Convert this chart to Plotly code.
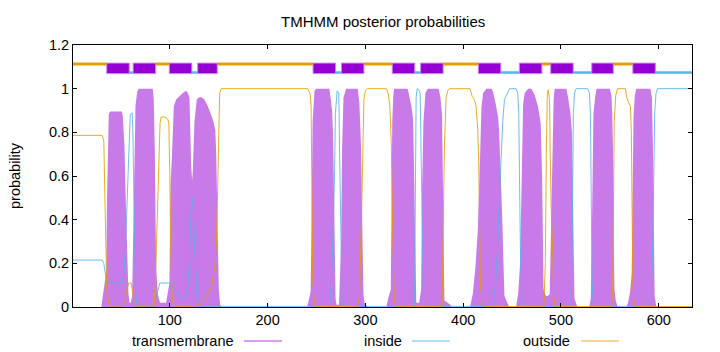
import plotly.graph_objects as go

# ---------------- data ----------------
tm_x = [1, 30, 31.5, 33.5, 35, 35.8, 36.5, 37.6, 39, 51, 52, 53.6, 55.3, 56.4, 57.7, 58.7, 60,
        61.5, 62.8, 64.9, 66.6, 68.3, 82.6, 83.6, 84.6, 85.3, 86, 87.7, 90, 94, 96.2,
        99.6, 100.7, 102.4, 104.1, 106.5, 109.9, 113.3, 116.7, 118.4, 120.1, 120.8, 121.8, 122.8,
        123.5, 125.2, 127.6, 129.6, 132, 135.4, 138.8, 142.2, 144.6, 146.5, 147.5, 148.3, 149,
        150.1, 151.4, 153,
        240.5, 242, 244, 245, 246, 248, 249.6, 263.2, 264.5, 266, 267, 267.8, 268.5, 269.5, 270.5,
        273, 274.1, 275.2, 276.2, 277.6, 280.3, 292.2, 293.9, 295.6, 296.6, 298, 299, 301, 302,
        321.5, 323.3, 326, 326.8, 327.5, 328.5, 329.5, 343, 344, 347, 348.8, 349.5, 350.3, 351,
        352, 355,
        357, 358, 359.4, 361.4, 363.8, 375, 376.7, 378.4, 379.1, 379.8, 380.8, 387, 388,
        407, 408.1, 409.8, 412.5, 414.9, 416.6, 417.6, 418.7, 420.4, 423.8, 428.9, 430.6, 433.3,
        435.7, 436.7, 438.1, 439.8, 441.2, 442.2, 446, 447,
        454.1, 456.2, 458.2, 459.2, 460.2, 461.3, 463, 466.4, 469.8, 473.2, 476.6, 479.3, 480.7,
        481.4, 482.2, 484.7, 486.5,
        488.5, 489.5, 490.5, 491.6, 492.5, 493.5, 505.5, 507.3, 509.7, 511.2, 512.2, 512.9, 513.8,
        515.9, 517,
        529, 530.5, 531.5, 532.2, 533.2, 535.2, 536.5, 549.9, 551.6, 552.5, 553.3, 554, 554.7,
        556, 558,
        567, 568.6, 570.7, 572.3, 573.2, 574.2, 575.5, 577.1, 591.5, 593, 594, 594.8, 595.8,
        597.6, 634]
tm_y = [0, 0, 0.05, 0.11, 0.16, 0.5, 0.75, 0.88, 0.895, 0.895, 0.87, 0.74, 0.43, 0.21, 0.06, 0.02, 0.02,
        0.05, 0.38, 0.92, 0.985, 1.0, 1.0, 0.95, 0.73, 0.43, 0.18, 0.06, 0.02, 0.02, 0.02,
        0.11, 0.55, 0.72, 0.92, 0.95, 0.965, 0.98, 0.99, 0.98, 0.96, 0.8, 0.65, 0.58,
        0.62, 0.85, 0.95, 0.96, 0.962, 0.95, 0.92, 0.88, 0.85, 0.81, 0.7, 0.5, 0.3,
        0.08, 0.01, 0,
        0, 0.03, 0.07, 0.4, 0.85, 0.99, 1.0, 1.0, 0.96, 0.9, 0.78, 0.5, 0.2, 0.04, 0.01,
        0.01, 0.15, 0.3, 0.73, 0.96, 1.0, 1.0, 0.93, 0.73, 0.43, 0.06, 0.02, 0.01, 0,
        0, 0.04, 0.08, 0.5, 0.85, 0.97, 1.0, 1.0, 0.985, 0.92, 0.86, 0.7, 0.45, 0.15,
        0.02, 0.02,
        0.08, 0.54, 0.85, 0.98, 1.0, 1.0, 0.96, 0.88, 0.6, 0.2, 0.03, 0.01, 0,
        0, 0.02, 0.06, 0.18, 0.35, 0.58, 0.81, 0.915, 0.98, 1.0, 1.0, 0.985, 0.93,
        0.87, 0.81, 0.66, 0.43, 0.2, 0.05, 0.01, 0,
        0, 0.06, 0.2, 0.5, 0.81, 0.93, 0.98, 1.0, 1.0, 0.97, 0.916, 0.84, 0.6,
        0.3, 0.08, 0.05, 0.05,
        0.06, 0.3, 0.6, 0.8, 0.95, 1.0, 1.0, 0.96, 0.885, 0.8, 0.5, 0.2, 0.04,
        0.01, 0,
        0, 0.04, 0.3, 0.7, 0.885, 0.97, 1.0, 1.0, 0.97, 0.88, 0.7, 0.3, 0.08,
        0.03, 0,
        0, 0.02, 0.07, 0.15, 0.5, 0.87, 0.97, 1.0, 1.0, 0.96, 0.75, 0.3, 0.05,
        0, 0]

inside_x = [1, 30.8, 32.5, 34, 35.5, 51.2, 53, 54.5, 56, 57.5, 58.5, 59.5, 61.5, 62.2, 63, 64, 65,
            66.5, 82.3, 86.3, 89.8, 103.4, 105.1, 110.2, 115.3, 118.4, 120.1, 121.5, 122.8, 123.9,
            125.2, 126.5, 127.6, 130.5, 263.2, 265, 266.6, 268.4, 269.4, 271.1, 272.8, 274.1,
            275.2, 276.2, 350.2, 351.2, 351.9, 352.9, 354.6, 356, 357, 358, 359.4, 361, 430, 433,
            435.5, 437, 439, 440.5, 442.2, 444, 446, 447.5, 454.1, 455.8, 456.8, 457.5, 458.5,
            460.2, 462, 510.3, 511.4, 512.7, 513.8, 515.5, 527.4, 529.1, 530.1, 530.8, 531.8,
            533.2, 592.1, 593.8, 594.9, 595.9, 597.2, 598.9, 634]
inside_y = [0.215, 0.215, 0.2, 0.14, 0.11, 0.11, 0.15, 0.25, 0.45, 0.68, 0.83, 0.88, 0.89, 0.82,
            0.58, 0.28, 0.06, 0.003, 0.003, 0.05, 0.11, 0.11, 0.08, 0.046, 0.04, 0.09, 0.22, 0.42,
            0.5, 0.45, 0.3, 0.12, 0.05, 0.003, 0.003, 0.1, 0.27, 0.6, 0.89, 0.99, 0.98, 0.58,
            0.12, 0.003, 0.003, 0.58, 0.96, 1.0, 0.995, 0.98, 0.7, 0.27, 0.015, 0.003, 0.003, 0.1,
            0.3, 0.5, 0.72, 0.85, 0.95, 0.97, 0.99, 1.0, 1.0, 0.98, 0.89, 0.58, 0.27,
            0.015, 0.003, 0.003, 0.27, 0.885, 0.98, 1.0, 1.0, 0.98, 0.89, 0.58, 0.12,
            0.003, 0.003, 0.27, 0.58, 0.89, 0.98, 1.0, 1.0]

outside_x = [1, 30.8, 32.5, 33.5, 34.5, 35.5, 37.6, 39, 52, 54, 56, 58, 60.5, 62, 63.5, 65, 84,
             85.5, 87, 88.5, 90, 91, 95, 98, 99, 100, 101, 102.5, 104, 118, 130.7, 137.5, 142.6,
             146, 147.7, 149, 150, 151, 152.5, 241, 243.5, 244.5, 245.2, 246.2, 247.9, 249, 292,
             294, 296, 297.5, 298.5, 300, 302, 321.5, 323.2, 324.9, 326.5, 327.5, 328.5, 329.5,
             331, 378.5, 379.8, 380.8, 382.5, 384.2, 385.9, 407.1, 409.1, 411.5, 413.2, 414.9,
             415.9, 416.6, 417.6, 419.3, 421, 482.5, 484, 485, 486, 487, 488.3, 489, 490, 491.6,
             492.5, 494, 552, 553, 553.8, 554.5, 556, 558, 565.9, 567.3, 569.3, 571, 572, 572.7,
             573.4, 574.4, 576, 634]
outside_y = [0.786, 0.786, 0.76, 0.5, 0.2, 0.08, 0.015, 0.005, 0.005, 0.02, 0.08, 0.11, 0.11, 0.07,
             0.02, 0.003, 0.005, 0.15, 0.4, 0.7, 0.84, 0.87, 0.87, 0.86, 0.84, 0.6, 0.25, 0.04,
             0.003, 0.003, 0.01, 0.046, 0.09, 0.18, 0.3, 0.55, 0.85, 0.98, 1.0, 1.0, 0.976, 0.92,
             0.58, 0.12, 0.01, 0.002, 0.002, 0.05, 0.4, 0.8, 0.95, 0.99, 1.0, 1.0, 0.98, 0.93,
             0.75, 0.45, 0.15, 0.03, 0.002, 0.002, 0.43, 0.73, 0.96, 0.99, 1.0, 1.0, 0.965, 0.95,
             0.92, 0.81, 0.66, 0.43, 0.12, 0.01, 0.002, 0.002, 0.2, 0.7, 0.97, 0.995, 0.95, 0.7,
             0.45, 0.24, 0.05, 0.002, 0.002, 0.1, 0.5, 0.85, 0.97, 1.0, 1.0, 0.96, 0.935, 0.92,
             0.8, 0.43, 0.12, 0.03, 0.002, 0.002]

# predicted topology (type, first residue, last residue)
seg_type = ["outside", "TMhelix", "inside", "TMhelix", "outside", "TMhelix", "inside", "TMhelix",
            "outside", "TMhelix", "inside", "TMhelix", "outside", "TMhelix", "inside", "TMhelix",
            "outside", "TMhelix", "inside", "TMhelix", "outside", "TMhelix", "inside", "TMhelix",
            "outside", "TMhelix", "inside"]
seg_start = [1, 36, 59, 63, 86, 100, 123, 129, 149, 247, 270, 276, 299, 328, 351, 357, 380, 416,
             439, 458, 481, 490, 513, 532, 554, 574, 597]
seg_end = [35, 58, 62, 85, 99, 122, 128, 148, 246, 269, 275, 298, 327, 350, 356, 379, 415, 438,
           457, 480, 489, 512, 531, 553, 573, 596, 634]

seq_len = 634
x_ticks = [100, 200, 300, 400, 500, 600]
y_ticks = [0, 0.2, 0.4, 0.6, 0.8, 1.0, 1.2]
y_tick_text = ["0", "0.2", "0.4", "0.6", "0.8", "1", "1.2"]

# ---------------- style ----------------
PURPLE = "#9400D3"
BLUE = "#56B4E9"
ORANGE = "#E69F00"
FONT = "Liberation Sans, Arial, sans-serif"
FS = 14.5
Y_OUT, Y_IN, BOX_LO, BOX_HI = 1.113, 1.074, 1.069, 1.117

fig = go.Figure()

fig.add_trace(go.Scatter(x=tm_x, y=tm_y, mode="lines", fill="tozeroy",
                         fillcolor="rgba(148,0,211,0.52)", line=dict(width=0, color=PURPLE),
                         name="transmembrane", showlegend=False, hoverinfo="skip"))
fig.add_trace(go.Scatter(x=inside_x, y=inside_y, mode="lines",
                         line=dict(width=1, color=BLUE), opacity=0.85,
                         name="inside", showlegend=False))
fig.add_trace(go.Scatter(x=outside_x, y=outside_y, mode="lines",
                         line=dict(width=1, color=ORANGE), opacity=0.85,
                         name="outside", showlegend=False))

# topology bar on top
ox, oy, ix, iy, bx, by = [], [], [], [], [], []
for t, s, e in zip(seg_type, seg_start, seg_end):
    a, b = max(s - 0.5, 1), e + 0.5
    if t == "outside":
        ox += [a, b, None]; oy += [Y_OUT, Y_OUT, None]
    elif t == "inside":
        ix += [a, b, None]; iy += [Y_IN, Y_IN, None]
    else:
        bx += [a, b, b, a, a, None]; by += [BOX_LO, BOX_LO, BOX_HI, BOX_HI, BOX_LO, None]

fig.add_trace(go.Scatter(x=ox, y=oy, mode="lines", line=dict(width=3, color=ORANGE),
                         showlegend=False, hoverinfo="skip"))
fig.add_trace(go.Scatter(x=ix, y=iy, mode="lines", line=dict(width=2.5, color=BLUE),
                         showlegend=False, hoverinfo="skip"))
fig.add_trace(go.Scatter(x=bx, y=by, mode="lines", fill="toself", fillcolor=PURPLE,
                         line=dict(width=1, color="#C884EA"), showlegend=False, hoverinfo="skip"))

# ---------------- layout ----------------
L, R, T, B = 73, 28, 45, 45
W, H = 720, 352
pw, ph = W - L - R, H - T - B

def px2paper_x(px):
    return (px - L) / pw

def py2paper_y(py):
    return (H - B - py) / ph

annotations = [
    dict(text="TMHMM posterior probabilities", xref="paper", yref="paper",
         x=0.5, y=py2paper_y(21.5), xanchor="center", yanchor="middle", showarrow=False,
         font=dict(size=15, color="black", family=FONT)),
    dict(text="probability", xref="paper", yref="paper", x=px2paper_x(15), y=0.5,
         textangle=-90, xanchor="center", yanchor="middle", showarrow=False,
         font=dict(size=FS, color="black", family=FONT)),
]
shapes = []
legend_items = [("transmembrane", "rgba(148,0,211,0.5)", 236, 244, 282),
                ("inside", "rgba(86,180,233,0.6)", 404, 412, 450),
                ("outside", "rgba(230,159,0,0.55)", 572, 581, 619)]
for name, col, tx, l0, l1 in legend_items:
    annotations.append(dict(text=name, xref="paper", yref="paper", x=px2paper_x(tx),
                            y=py2paper_y(341), xanchor="right", yanchor="middle",
                            showarrow=False, font=dict(size=FS, color="black", family=FONT)))
    shapes.append(dict(type="line", xref="paper", yref="paper", x0=px2paper_x(l0),
                       x1=px2paper_x(l1), y0=py2paper_y(341), y1=py2paper_y(341),
                       line=dict(color=col, width=1.5)))

fig.update_layout(
    width=W, height=H, margin=dict(l=L, r=R, t=T, b=B, pad=0),
    paper_bgcolor="white", plot_bgcolor="white",
    font=dict(family=FONT, size=FS, color="black"),
    annotations=annotations, shapes=shapes, showlegend=False,
    xaxis=dict(range=[1, seq_len], tickvals=x_ticks, ticks="inside", ticklen=4,
               tickcolor="black", showline=True, linecolor="black", linewidth=1,
               mirror="ticks", showgrid=False, zeroline=False,
               tickfont=dict(size=FS, family=FONT)),
    yaxis=dict(range=[0, 1.2], tickvals=y_ticks, ticktext=y_tick_text, ticks="inside",
               ticklen=4, tickcolor="black", showline=True, linecolor="black", linewidth=1,
               mirror="ticks", showgrid=False, zeroline=False,
               tickfont=dict(size=FS, family=FONT)),
)

fig.write_html("out.html")
